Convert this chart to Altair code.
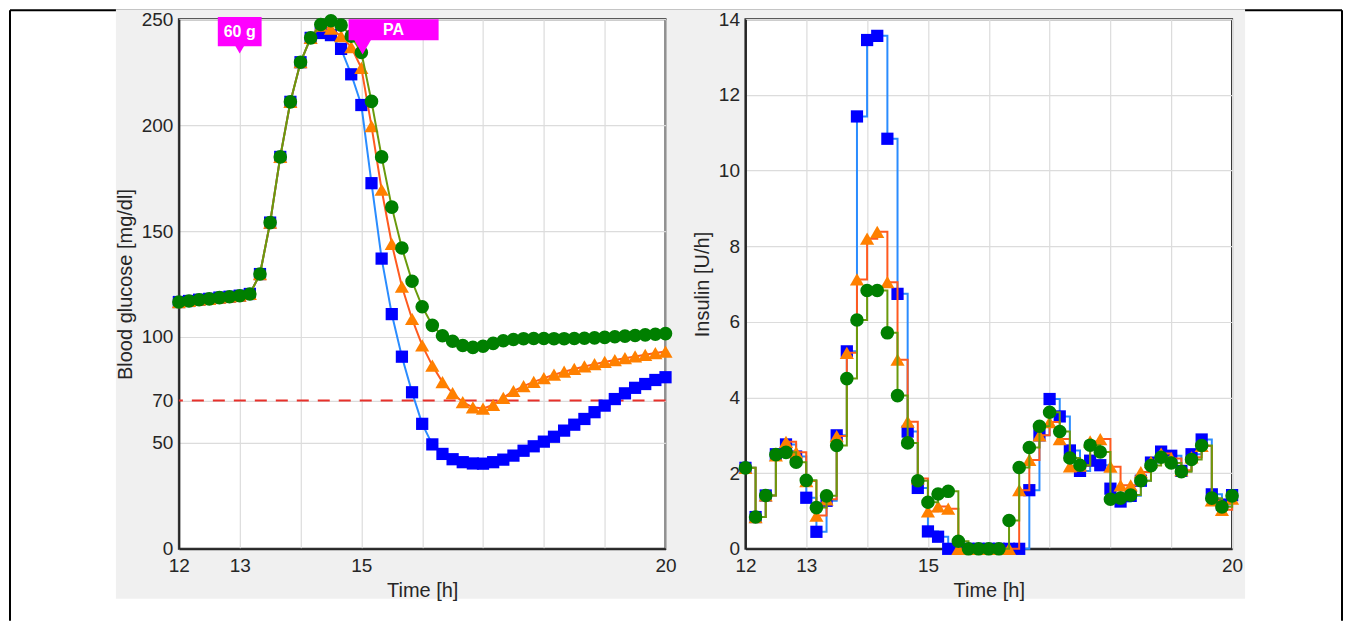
import altair as alt
import pandas as pd

# ---------------- data ----------------
time_h = [12 + i / 6 for i in range(49)]  # 10-minute samples, 12:00 .. 20:00

glucose_blue = [116.5, 117, 117.6, 118, 118.6, 119, 119.5, 120.3, 129.7, 154, 185, 211, 229.7, 241.2,
                243.5, 242.5, 236, 224, 209.5, 172.6, 137, 110.8, 90.7, 73.9, 59, 49.3, 44.8, 42.3,
                40.9, 40.3, 40.2, 40.9, 42.1, 44, 46.3, 48.4, 50.6, 52.9, 55.8, 58.6, 61.3, 64.5,
                67.6, 70.7, 73.4, 76, 77.8, 79.7, 81]
glucose_orange = [116.5, 117, 117.6, 118, 118.6, 119, 119.5, 120.3, 129.7, 154, 185, 211, 229.7, 241.2,
                  247, 245.5, 242, 236.8, 227, 199.5, 169.5, 144, 123.8, 108.5, 96, 86.5, 78.7, 73.5,
                  69.2, 66.8, 66.2, 68, 71.3, 74.5, 76.8, 78.8, 80.6, 82.2, 83.6, 84.9, 86.1, 87.2,
                  88.2, 89.1, 90, 90.8, 91.6, 92.4, 93.1]
glucose_green = [116.5, 117, 117.6, 118, 118.6, 119, 119.5, 120.3, 129.7, 154, 185, 211, 229.7, 241.2,
                 247.5, 249.3, 247.2, 242, 234.3, 211.2, 185, 161.3, 142, 126.3, 114.3, 105.5, 100.6, 98,
                 96, 95.1, 95.6, 97, 98.2, 98.8, 99.2, 99.3, 99.3, 99.2, 99.2, 99.3, 99.4, 99.6,
                 99.8, 100.1, 100.4, 100.7, 101, 101.3, 101.6]

insulin_blue = [2.14, 0.84, 1.41, 2.5, 2.76, 2.44, 1.35, 0.45, 1.27, 3.0, 5.22, 11.43, 13.45, 13.56,
                10.84, 6.74, 3.1, 1.61, 0.46, 0.32, 0, 0, 0, 0, 0, 0, 0, 0,
                1.55, 3.0, 3.96, 3.5, 2.6, 2.06, 2.33, 2.21, 1.59, 1.25, 1.4, 1.8, 2.28, 2.57,
                2.46, 2.06, 2.5, 2.89, 1.44, 1.17, 1.42]
insulin_orange = [2.14, 0.84, 1.41, 2.47, 2.83, 2.55, 1.79, 0.88, 1.31, 2.98, 5.18, 7.12, 8.2, 8.38,
                  7.05, 5.0, 3.36, 1.86, 0.99, 1.12, 1.06, 0, 0, 0, 0, 0, 0, 1.55,
                  2.35, 3.0, 3.35, 2.9, 2.18, 2.2, 2.84, 2.9, 2.17, 1.68, 1.68, 2.03, 2.3, 2.52,
                  2.39, 2.08, 2.42, 2.72, 1.28, 1.03, 1.33]
insulin_green = [2.14, 0.84, 1.41, 2.49, 2.55, 2.29, 1.81, 1.09, 1.4, 2.73, 4.5, 6.05, 6.83, 6.83,
                 5.71, 4.05, 2.8, 1.8, 1.23, 1.45, 1.52, 0.2, 0, 0, 0, 0, 0.75, 2.15,
                 2.68, 3.24, 3.61, 3.1, 2.4, 2.21, 2.74, 2.56, 1.31, 1.34, 1.42, 1.8, 2.2, 2.42,
                 2.27, 2.04, 2.36, 2.73, 1.34, 1.11, 1.4]

series_names = ["blue", "orange", "green"]
hypo_threshold = [70]

x_ticks = [12, 13, 14, 15, 16, 17, 18, 19, 20]
x_labelled = [12, 13, 15, 20]
glucose_ticks = [0, 50, 70, 100, 150, 200, 250]
insulin_ticks = [0, 2, 4, 6, 8, 10, 12, 14]

# event annotations (meal, physical activity)
event_labels = ["60 g", "PA"]
event_x_start = [12.64, 14.79]
event_x_end = [13.36, 16.27]
event_y_low = [237.3, 240.1]
event_y_high = [251, 250]
event_tip_x = [13.0, 15.02]
event_tip_y = [235.6, 236.8]
event_tip_size = [81, 289]
event_text_x = [13.0, 15.53]
event_text_y = [244.2, 245]

# ---------------- styling ----------------
FONT = "Liberation Sans"
TXT = "#262626"
line_colors = {"blue": "#2a8cff", "orange": "#ff5a1f", "green": "#6a9a0c"}
marker_colors = {"blue": "#0000ff", "orange": "#ff8000", "green": "#007f00"}
marker_shapes = {"blue": "square", "orange": "triangle-up", "green": "circle"}
marker_sizes = {"blue": 150, "orange": 200, "green": 185}

W, H = 487, 530

glu_rows, ins_rows = [], []
for name, gv, iv in zip(series_names,
                        [glucose_blue, glucose_orange, glucose_green],
                        [insulin_blue, insulin_orange, insulin_green]):
    for t, g, ins in zip(time_h, gv, iv):
        glu_rows.append({"time": t, "value": g, "series": name})
        ins_rows.append({"time": t, "value": ins, "series": name})
glu_df = pd.DataFrame(glu_rows)
ins_df = pd.DataFrame(ins_rows)

label_expr = ("indexof([" + ", ".join(str(v) for v in x_labelled) +
              "], datum.value) >= 0 ? format(datum.value, 'd') : ''")

x_enc = alt.X("time:Q", scale=alt.Scale(domain=[12, 20], nice=False, zero=False),
              axis=alt.Axis(values=x_ticks, labelExpr=label_expr, title="Time [h]",
                            labelPadding=8, titlePadding=5))


def panel(df, y_title, y_domain, y_ticks, step, extra_before=None, extra_after=None):
    y_enc = alt.Y("value:Q", scale=alt.Scale(domain=y_domain, nice=False),
                  axis=alt.Axis(values=y_ticks, title=y_title, format="d"))
    base = alt.Chart(df).encode(x=x_enc, y=y_enc)
    layers = []
    if extra_before is not None:
        layers.extend(extra_before)
    for name in series_names:
        sub = base.transform_filter(alt.datum.series == name)
        if step:
            line = sub.mark_line(color=line_colors[name], strokeWidth=2, interpolate="step-after")
        else:
            line = sub.mark_line(color=line_colors[name], strokeWidth=2)
        pts = sub.mark_point(filled=True, opacity=1, shape=marker_shapes[name],
                             size=marker_sizes[name], color=marker_colors[name])
        layers.extend([line, pts])
    if extra_after is not None:
        layers.extend(extra_after)
    return alt.layer(*layers).properties(
        width=W, height=H,
        view=alt.ViewBackground(fill="white", stroke=TXT, strokeWidth=2),
    )


# threshold line
thr_df = pd.DataFrame({"value": hypo_threshold})
threshold = alt.Chart(thr_df).mark_rule(color="#e8302a", strokeWidth=2, strokeDash=[12, 9]).encode(
    y=alt.Y("value:Q")
)

ev_df = pd.DataFrame({
    "label": event_labels, "x0": event_x_start, "x1": event_x_end,
    "y0": event_y_low, "y1": event_y_high, "tx": event_tip_x, "ty": event_tip_y,
    "ts": event_tip_size, "lx": event_text_x, "ly": event_text_y,
})
ev_rect = alt.Chart(ev_df).mark_rect(color="#ff00ff").encode(
    x="x0:Q", x2="x1", y="y0:Q", y2="y1")
ev_tip = alt.Chart(ev_df).mark_point(filled=True, opacity=1, shape="triangle-down", color="#ff00ff").encode(
    x="tx:Q", y="ty:Q", size=alt.Size("ts:Q", scale=None, legend=None))
ev_text = alt.Chart(ev_df).mark_text(color="white", fontWeight="bold", fontSize=16, font=FONT).encode(
    x="lx:Q", y="ly:Q", text="label:N")

left = panel(glu_df, "Blood glucose [mg/dl]", [0, 250], glucose_ticks, False,
             extra_before=[threshold], extra_after=[ev_rect, ev_tip, ev_text])
right = panel(ins_df, "Insulin [U/h]", [0, 14], insulin_ticks, True)

# decorative figure background and outer frame
deco_df = pd.DataFrame({"a": [0]})
frame_color = "black"
deco = alt.layer(
    alt.Chart(deco_df).mark_rule(color=frame_color, strokeWidth=2).encode(
        x=alt.value(-79), x2=alt.value(1254), y=alt.value(-9)),
    alt.Chart(deco_df).mark_rule(color=frame_color, strokeWidth=2).encode(
        x=alt.value(-79), y=alt.value(-9), y2=alt.value(602)),
    alt.Chart(deco_df).mark_rule(color=frame_color, strokeWidth=2).encode(
        x=alt.value(1254), y=alt.value(-9), y2=alt.value(602)),
    alt.Chart(deco_df).mark_rect(color="#f0f0f0").encode(
        x=alt.value(27), x2=alt.value(1157), y=alt.value(-10), y2=alt.value(580)),
).properties(width=10, height=H,
             view=alt.ViewBackground(fill="transparent", stroke="transparent"))

chart = alt.hconcat(deco, left, right, spacing=80, bounds="flush", padding=0).configure(
    background="white"
).configure_axis(
    labelFont=FONT, titleFont=FONT, labelFontSize=19, titleFontSize=20,
    titleFontWeight="normal", labelColor=TXT, titleColor=TXT,
    grid=True, gridColor="#dcdcdc", gridWidth=1.2,
    domainColor=TXT, domainWidth=2, ticks=False, tickSize=0,
    labelPadding=6, titlePadding=6, labelFlush=False, labelOverlap=False,
)

chart.save("out.html", embed_options={"renderer": "svg", "actions": False})
